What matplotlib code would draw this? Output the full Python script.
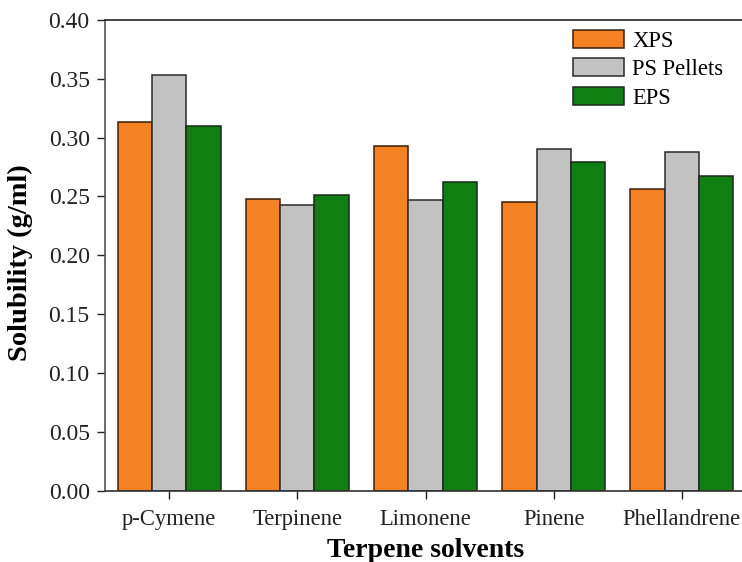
import matplotlib
matplotlib.use("Agg")
import matplotlib.pyplot as plt
import numpy as np

plt.rcParams['font.family'] = ['Liberation Serif', 'DejaVu Serif']

solvents = ["p-Cymene", "Terpinene", "Limonene", "Pinene", "Phellandrene"]
xps = [0.3135, 0.248, 0.293, 0.245, 0.256]
ps_pellets = [0.353, 0.243, 0.247, 0.290, 0.288]
eps = [0.310, 0.251, 0.262, 0.279, 0.2675]
series_names = ["XPS", "PS Pellets", "EPS"]
yticks = [0.00, 0.05, 0.10, 0.15, 0.20, 0.25, 0.30, 0.35, 0.40]

colors = ["#F48122", "#C1C2C1", "#0F7F14"]
edges = ["#3a2010", "#2a2a2a", "#1a2a1a"]

W, H = 742, 562
fig = plt.figure(figsize=(W / 100, H / 100), dpi=100)
ax = fig.add_axes([105 / W, (H - 491) / H, (746 - 105) / W, (491 - 19.7) / H])

x = np.arange(len(solvents))
width = 0.268
for i, (vals, name) in enumerate(zip([xps, ps_pellets, eps], series_names)):
    ax.bar(x + (i - 1) * width, vals, width, color=colors[i], edgecolor=edges[i],
           linewidth=1.1, label=name, zorder=2)

ax.set_xlim(-0.5, 4.5)
ax.set_ylim(0, 0.40)
ax.set_yticks(yticks)
ax.set_yticklabels([f"{v:.2f}" for v in yticks])
ax.set_xticks(x)
ax.set_xticklabels(solvents)
ax.tick_params(axis='both', direction='out', length=6, width=1.0,
               colors='#222222')
ax.tick_params(axis='x', labelsize=16.3, pad=7)
ax.tick_params(axis='y', labelsize=17, pad=5)
for s in ['left', 'bottom', 'top', 'right']:
    ax.spines[s].set_linewidth(1.2)
ax.spines['left'].set_color('#555555')
ax.spines['bottom'].set_color('#333333')
ax.spines['top'].set_color('#222222')

ax.set_xlabel("Terpene solvents", fontsize=20, fontweight='bold', labelpad=5.5)
ax.set_ylabel("Solubility (g/ml)", fontsize=20.5, fontweight='bold')
ax.yaxis.set_label_coords(-0.112, 0.485)

fig.legend(loc='upper left', bbox_to_anchor=(573 / W, 1 - 30 / H), frameon=False,
           fontsize=16.3, handlelength=2.26, handleheight=0.82, handletextpad=0.35,
           labelspacing=0.3, borderpad=0, borderaxespad=0)

fig.savefig("out.png", dpi=100)
